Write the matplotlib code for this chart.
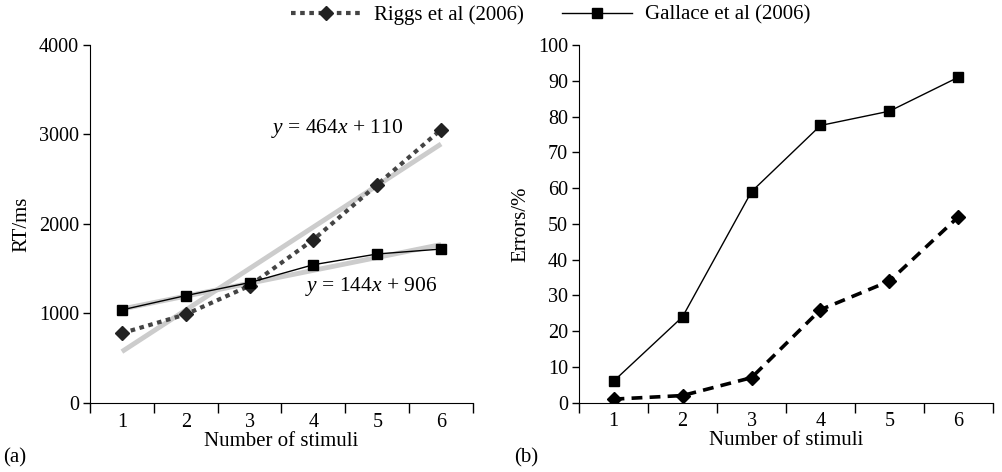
import matplotlib
matplotlib.use("Agg")
import matplotlib.pyplot as plt
import numpy as np

plt.rcParams['font.family'] = ['Liberation Serif', 'DejaVu Serif']
plt.rcParams['mathtext.fontset'] = 'custom'
plt.rcParams['mathtext.rm'] = 'Liberation Serif'
plt.rcParams['mathtext.it'] = 'Liberation Serif:italic'

## data
stimuli = [1, 2, 3, 4, 5, 6]
rt_riggs = [780, 990, 1310, 1825, 2440, 3055]
rt_gallace = [1040, 1200, 1345, 1545, 1665, 1720]
err_riggs = [1, 2, 7, 26, 34, 52]
err_gallace = [6, 24, 59, 77.5, 81.5, 91]
fit_riggs = (464, 110)
fit_gallace = (144, 906)

fs = 15     # labels, legend
tfs = 14.5  # tick labels
fig = plt.figure(figsize=(10.03, 4.72), dpi=100)
ax1 = fig.add_axes([0.0897, 0.1462, 0.3819, 0.7585])
ax2 = fig.add_axes([0.5773, 0.1468, 0.4127, 0.7579])

x = np.array(stimuli)

# trend lines first so the data sits on top
for m, b in (fit_riggs, fit_gallace):
    ax1.plot([x[0], x[-1]], [m * x[0] + b, m * x[-1] + b], color='#cccccc',
             lw=3.5, solid_capstyle='butt', zorder=2)

h1, = ax1.plot(x, rt_riggs, color='#444444', lw=3, dashes=(1.1, 1.1),
               dash_capstyle='butt', marker='D', ms=7.5, mfc='#222222',
               mec='#222222', zorder=3, label='Riggs et al (2006)')
h2, = ax1.plot(x, rt_gallace, color='black', lw=1, marker='s', ms=7,
               zorder=3, label='Gallace et al (2006)')

ax1.text(4.37, 3072, '$y$ = 464$x$ + 110', ha='center', va='center', fontsize=15.5)
ax1.text(4.9, 1307, '$y$ = 144$x$ + 906', ha='center', va='center', fontsize=15.5)

ax2.plot(x, err_gallace, color='black', lw=1, marker='s', ms=7, zorder=3)
ax2.plot(x, err_riggs, color='black', lw=2.6, dashes=(3, 2), dash_capstyle='butt',
         marker='D', ms=7.5, zorder=3)

ax1.set_ylim(0, 4000)
ax1.set_yticks([0, 1000, 2000, 3000, 4000])
ax1.set_ylabel('RT/ms', fontsize=fs, labelpad=5)
ax2.set_ylim(0, 100)
ax2.set_yticks(range(0, 101, 10))
ax2.set_ylabel('Errors/%', fontsize=fs, labelpad=5)

for ax in (ax1, ax2):
    ax.set_xlim(0.5, 6.5)
    ax.set_xticks(stimuli)
    ax.set_xticks(np.arange(0.5, 7, 1), minor=True)
    ax.tick_params(axis='x', which='major', length=0, pad=7, labelsize=tfs)
    ax.tick_params(axis='x', which='minor', length=7, width=1, direction='out')
    ax.tick_params(axis='y', length=5, width=1, labelsize=tfs, pad=3)
    ax.spines['top'].set_visible(False)
    ax.spines['right'].set_visible(False)
    ax.set_xlabel('Number of stimuli', fontsize=fs, labelpad=0)

fig.text(0.003, 0.03, '(a)', fontsize=fs, va='center')
fig.text(0.513, 0.03, '(b)', fontsize=fs, va='center')

fig.legend(handles=[h1, h2], loc='center', bbox_to_anchor=(0.549, 0.968), ncol=2,
           frameon=False, fontsize=fs, handlelength=3.4, columnspacing=1.8,
           handletextpad=0.6)

fig.savefig('out.png', dpi=100)
